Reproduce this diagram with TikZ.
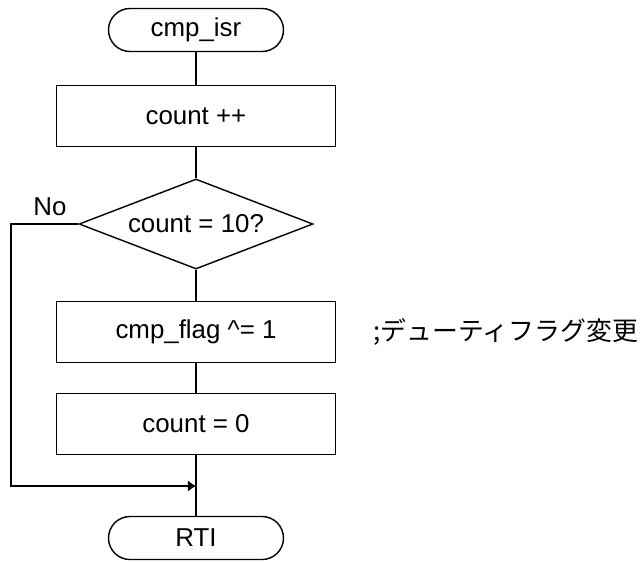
\documentclass[tikz,border=0pt]{standalone}
\usepackage{fontspec}
\setmainfont{Liberation Sans}
\newfontfamily\jpfont{Noto Sans CJK JP}
\usetikzlibrary{shapes.geometric,arrows.meta}

\begin{document}
\begin{tikzpicture}[x=0.46pt,y=-0.46pt,
    every node/.style={font=\fontsize{11.9}{14}\selectfont},
    terminal/.style={draw,rectangle,rounded corners=9.9pt,minimum width=80.5pt,minimum height=19.8pt,inner sep=0pt},
    process/.style={draw,rectangle,minimum width=128.3pt,minimum height=28pt,inner sep=0pt},
    decision/.style={draw,diamond,aspect=2.6,minimum width=107.6pt,minimum height=41.4pt,inner sep=0pt},
    line width=0.65pt]
        \useasboundingbox (0,0) rectangle (640,562);
        % flow nodes
        \node[terminal] (start) at (196,30) {cmp\_isr};
        \node[process] (incr) at (196,116) {count ++};
        \node[decision] (check) at (196,224) {count = 10?};
        \node[process] (toggle) at (196,332) {cmp\_flag \^{}= 1};
        \node[process] (reset) at (196,424) {count = 0};
        \node[terminal] (rti) at (196,538) {RTI};

        % comment
        \node[anchor=west,inner sep=0pt] (note) at (373,332) {\jpfont ;デューティフラグ変更};

        % connectors
        \draw (start) -- (incr);
        \draw (incr) -- (check);
        \draw (check) -- (toggle);
        \draw (toggle) -- (reset);
        \draw (reset) -- (rti);

        % no branch
        \coordinate (corner) at (11,486);
        \coordinate (join) at (196,486);
        \draw[-{Latex[length=3.7pt,width=5.2pt]}] (check.west) -| (corner) -- (join);
        \node (no) at (50,207) {No};
    \end{tikzpicture}
\end{document}
